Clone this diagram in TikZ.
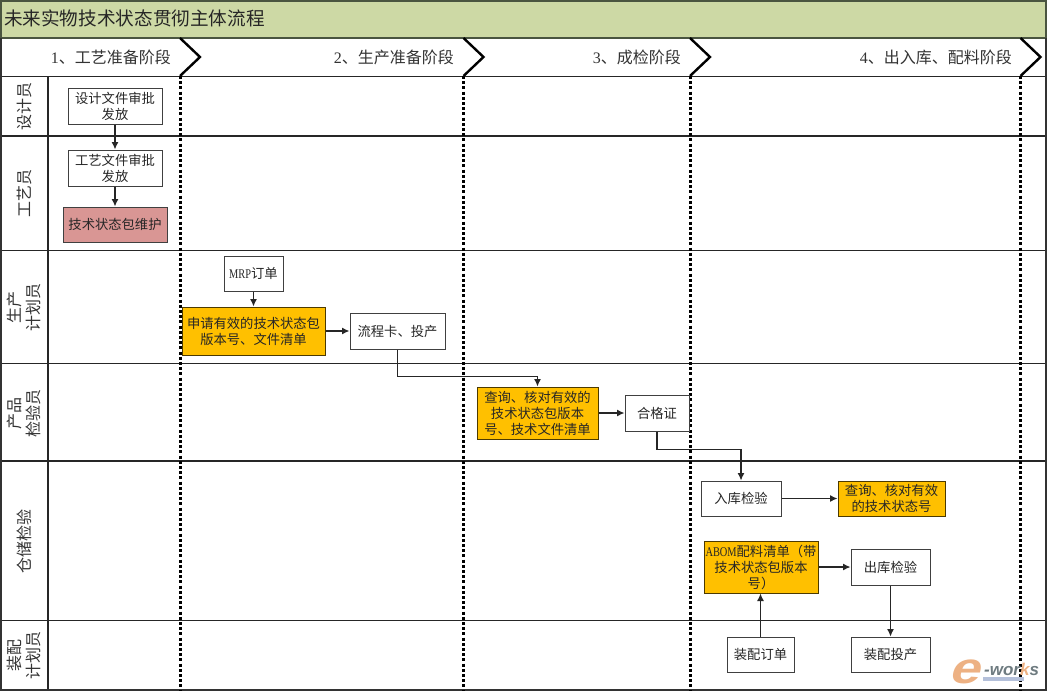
\documentclass[tikz,border=0pt]{standalone}
\usepackage{fontspec}
\usetikzlibrary{arrows.meta}
\setmainfont{Noto Sans CJK SC}
\newfontfamily\latinfont[FakeStretch=0.78]{Liberation Serif}
\newfontfamily\digitfont{Liberation Serif}
\newfontfamily\markfont{Liberation Sans}
\definecolor{titlegreen}{HTML}{CDD9A5}
\definecolor{framegreen}{HTML}{4A5540}
\definecolor{goldfill}{HTML}{FFC000}
\definecolor{rosefill}{HTML}{D99694}
\definecolor{boxline}{HTML}{404040}
\definecolor{markorange}{HTML}{EDB183}
\definecolor{markgrey}{HTML}{6E7B80}
\definecolor{markbar}{HTML}{B4C0DA}
\tikzset{
  plainbox/.style={draw=boxline, fill=white, line width=1pt, inner sep=0pt, align=center, text=black!85, font=\fontsize{13.3}{16}\selectfont},
  goldbox/.style={plainbox, fill=goldfill, draw=black!70!goldfill},
  rosebox/.style={plainbox, fill=rosefill},
  flow/.style={draw=black!85, line width=1.2pt, -{Latex[length=7.5pt,width=7pt]}},
  rolelabel/.style={rotate=90, align=center, text=black!80, font=\fontsize{16}{19}\selectfont},
  phaselabel/.style={anchor=east, text=black!80, font=\fontsize{16}{18}\selectfont}
}
\begin{document}
\begin{tikzpicture}[x=1pt, y=-1pt]
\useasboundingbox (0,0) rectangle (1048,693);
\fill[white] (0,0) rectangle (1048,693);
\filldraw[fill=titlegreen, draw=framegreen, line width=1.5pt] (1,1) rectangle (1046,38);
\node[anchor=west, inner sep=0pt, text=black!85, font=\fontsize{18.6}{22}\selectfont] (title) at (4,18.5) {未来实物技术状态贯彻主体流程};
\foreach \y/\w in {76/1,136/1.6,250/1,363/1,461/1.2,620/1}
	\draw[line width=\w pt, black!85] (1,\y) -- (1046,\y);
\draw[line width=1.2pt, black!85] (48,76) -- (48,690);
\draw[line width=1.5pt, black!80] (1,38) -- (1,690) -- (1046,690) -- (1046,38);
\foreach \x in {180,463.5,690,1020.5} {
	\draw[line width=3pt, dash pattern=on 3pt off 2.2pt] (\x,76) -- (\x,690);
	\draw[line width=2.4pt] (\x,38) -- (\x+20,57) -- (\x,76);
}
\foreach \n/\x/\t in {1/171/{{\digitfont 1}、工艺准备阶段},2/454/{{\digitfont 2}、生产准备阶段},3/681/{{\digitfont 3}、成检阶段},4/1012/{{\digitfont 4}、出入库、配料阶段}}
	\node[phaselabel, inner sep=0pt] (phase\n) at (\x,57) {\t};
\node[rolelabel] (designer) at (24,106) {设计员};
\node[rolelabel] (crafter) at (24,193) {工艺员};
\node[rolelabel] (planner) at (24,307) {生产\\计划员};
\node[rolelabel] (inspector) at (24,413) {产品\\检验员};
\node[rolelabel] (storage) at (24,541) {仓储检验};
\node[rolelabel] (assembler) at (24,655) {装配\\计划员};
\node[plainbox, minimum width=94pt, minimum height=36pt] (designdoc) at (115,106) {设计文件审批\\发放};
\node[plainbox, minimum width=94pt, minimum height=36pt] (craftdoc) at (115,168) {工艺文件审批\\发放};
\node[rosebox, minimum width=104pt, minimum height=35pt] (pkgkeep) at (115,224.5) {技术状态包维护};
\node[plainbox, minimum width=59pt, minimum height=35pt] (mrp) at (253.5,273.5) {{\latinfont MRP}订单};
\node[goldbox, minimum width=143pt, minimum height=48pt] (apply) at (253.5,331) {申请有效的技术状态包\\版本号、文件清单};
\node[plainbox, minimum width=95pt, minimum height=36pt] (card) at (397.5,331) {流程卡、投产};
\node[goldbox, minimum width=121pt, minimum height=52pt] (check) at (537.5,413) {查询、核对有效的\\技术状态包版本\\号、技术文件清单};
\node[plainbox, minimum width=64pt, minimum height=36pt] (cert) at (657,413) {合格证};
\node[plainbox, minimum width=80pt, minimum height=35pt] (instock) at (741,498.5) {入库检验};
\node[goldbox, minimum width=107pt, minimum height=35pt] (verify) at (891.5,498.5) {查询、核对有效\\的技术状态号};
\node[goldbox, minimum width=114pt, minimum height=52pt] (abom) at (761,567) {{\latinfont ABOM}配料清单（带\\技术状态包版本\\号）};
\node[plainbox, minimum width=79pt, minimum height=36pt] (outstock) at (890.5,567) {出库检验};
\node[plainbox, minimum width=67pt, minimum height=35pt] (order) at (760.5,654.5) {装配订单};
\node[plainbox, minimum width=79pt, minimum height=35pt] (start) at (890.5,654.5) {装配投产};
\draw[flow] (designdoc) -- (craftdoc);
\draw[flow] (craftdoc) -- (pkgkeep);
\draw[flow] (mrp) -- (apply);
\draw[flow] (apply) -- (card);
\draw[flow] (card.south) -- ++(0,27) -| (check.north);
\draw[flow] (check) -- (cert);
\draw[flow] (cert.south) -- ++(0,18) -| (instock.north);
\draw[flow] (instock) -- (verify);
\draw[flow] (abom) -- (outstock);
\draw[flow] (order.north) -- (order.north |- abom.south);
\draw[flow] (outstock) -- (start);
\fill[markbar] (983,677) rectangle (1024,681);
\node[anchor=base west, inner sep=0pt, xslant=0.3, xscale=1.25, text=markorange, font=\markfont\bfseries\fontsize{44}{44}\selectfont] (markhead) at (948,683) {e};
\node[anchor=base west, inner sep=0pt, text=markgrey, font=\markfont\bfseries\itshape\fontsize{17}{17}\selectfont] (marktail) at (984,675) {-wor{\color{markorange}k}s};
\end{tikzpicture}
\end{document}
